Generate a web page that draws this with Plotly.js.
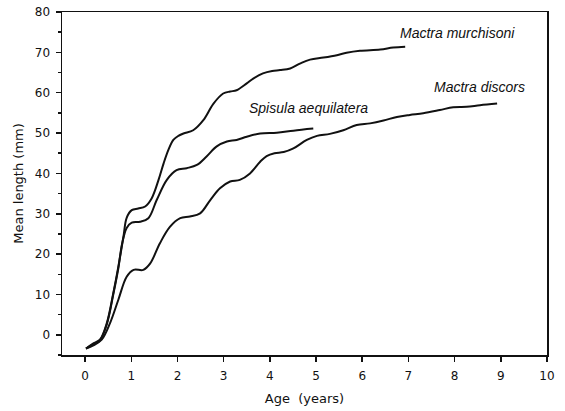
<!DOCTYPE html>
<html><head><meta charset="utf-8">
<script src="https://cdn.plot.ly/plotly-3.0.1.min.js"></script>
<style>html,body{margin:0;padding:0;background:#fff}#plot{width:565px;height:411px}</style>
</head><body><div id="plot"></div>
<script>
// Mactra murchisoni
const murchAge = [0.02,0.18,0.32,0.47,0.61,0.72,0.83,0.90,1.01,1.15,1.30,1.44,1.59,1.70,1.81,1.91,2.02,2.13,2.34,2.56,2.78,2.99,3.14,3.28,3.50,3.64,3.85,4.05,4.22,4.44,4.65,4.87,5.16,5.45,5.66,5.95,6.39,6.67,6.93];
const murchLen = [-3.4,-2.1,-1.2,2.9,10.3,16.9,24.3,29.0,30.9,31.3,31.8,33.8,38.4,42.5,46.0,48.3,49.3,49.9,50.7,53.2,57.3,59.8,60.3,60.6,62.3,63.5,64.8,65.4,65.6,66.0,67.2,68.2,68.7,69.3,69.9,70.4,70.7,71.2,71.4];
// Spisula aequilatera
const spisAge = [0.02,0.18,0.32,0.47,0.61,0.72,0.80,0.90,1.01,1.19,1.37,1.55,1.77,1.98,2.20,2.42,2.63,2.85,3.07,3.28,3.50,3.79,4.15,4.51,4.94];
const spisLen = [-3.4,-2.3,-1.4,2.6,10.0,16.5,22.5,26.5,27.8,28.0,28.9,33.4,38.4,40.8,41.3,42.1,44.2,46.7,47.9,48.3,49.1,49.9,50.1,50.6,51.1];
// Mactra discors
const discAge = [0.02,0.18,0.36,0.54,0.72,0.90,1.05,1.26,1.41,1.62,1.84,2.06,2.27,2.49,2.71,2.92,3.14,3.35,3.57,3.79,3.93,4.10,4.30,4.51,4.80,5.02,5.30,5.59,5.88,6.17,6.46,6.75,7.03,7.32,7.68,7.97,8.26,8.55,8.92];
const discLen = [-3.4,-2.6,-1.2,2.9,8.7,14.4,16.1,16.1,17.7,22.7,26.8,28.9,29.3,30.1,33.4,36.3,38.0,38.4,40.0,42.9,44.3,45.0,45.3,46.2,48.3,49.3,49.8,50.7,52.0,52.4,53.1,54.0,54.5,54.9,55.7,56.4,56.5,56.9,57.3];

const labelText = ["Mactra murchisoni","Spisula aequilatera","Mactra discors"];
const labelX = [8.06,4.84,8.53];
const labelY = [74.8,56.2,61.4];

const xTicks = [0,1,2,3,4,5,6,7,8,9,10];
const yTicks = [0,10,20,30,40,50,60,70,80];

const lineStyle = {color:'#111', width:2, shape:'spline', smoothing:1};
const traces = [
  {x:murchAge, y:murchLen, mode:'lines', line:lineStyle, hoverinfo:'skip'},
  {x:spisAge, y:spisLen, mode:'lines', line:lineStyle, hoverinfo:'skip'},
  {x:discAge, y:discLen, mode:'lines', line:lineStyle, hoverinfo:'skip'}
];
const fam = 'DejaVu Sans, Arial, sans-serif';
const layout = {
  width:565, height:411,
  margin:{l:62, r:18, t:12, b:56},
  paper_bgcolor:'#fff', plot_bgcolor:'#fff',
  showlegend:false,
  font:{family:fam, size:12, color:'#111'},
  xaxis:{range:[-0.5,10], tickvals:xTicks, ticktext:xTicks.map(String), ticks:'outside', ticklen:5, tickwidth:1.5, tickcolor:'#111',
    ticklabelstandoff:4,
    showline:true, linecolor:'#111', linewidth:1.5, mirror:true, showgrid:false, zeroline:false,
    title:{text:'Age  (years)', font:{family:fam, size:13, color:'#111'}, standoff:12}},
  yaxis:{range:[-5,80], tickvals:yTicks, ticktext:yTicks.map(String), ticks:'outside', ticklen:5, tickwidth:1.5, tickcolor:'#111',
    ticklabelstandoff:3,
    minor:{dtick:5, ticks:'outside', ticklen:3, tickcolor:'#111', showgrid:false},
    showline:true, linecolor:'#111', linewidth:1.5, mirror:true, showgrid:false, zeroline:false,
    title:{text:'Mean length (mm)', font:{family:fam, size:13, color:'#111'}, standoff:8}},
  annotations: labelText.map((t,i)=>({x:labelX[i], y:labelY[i], xref:'x', yref:'y', text:'<i>'+t+'</i>', showarrow:false,
    xanchor:'center', yanchor:'middle', font:{family:'Liberation Sans, Arial, sans-serif', size:14, color:'#111'}}))
};
Plotly.newPlot('plot', traces, layout, {staticPlot:true});
</script></body></html>
